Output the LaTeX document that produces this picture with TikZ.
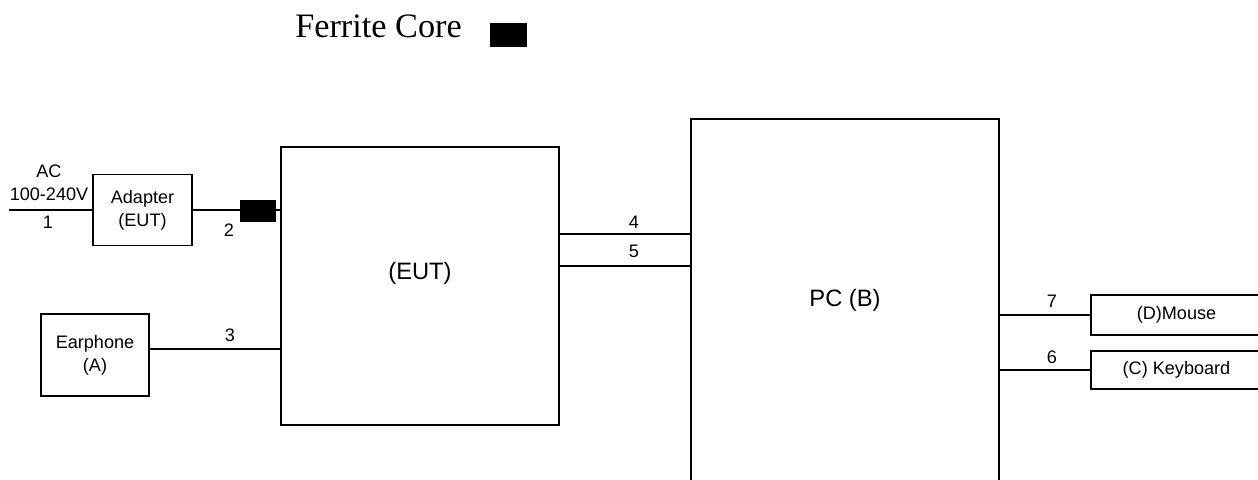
\documentclass[tikz,border=0pt]{standalone}
\usepackage{fontspec}
\setmainfont{Liberation Sans}
\newfontfamily\ferfont{Liberation Serif}

\begin{document}
\begin{tikzpicture}[x=0.02cm, y=-0.02cm,
  box/.style={draw, line width=1.1pt, inner sep=0pt, align=center, font=\fontsize{10.3}{13}\selectfont},
  core/.style={fill=black, inner sep=0pt, minimum width=0.72cm, minimum height=0.44cm},
  lbl/.style={inner sep=1pt, align=center, font=\fontsize{10.3}{13}\selectfont},
  big/.style={font=\fontsize{13.5}{16}\selectfont},
  wire/.style={line width=1.1pt}]
\useasboundingbox (0,0) rectangle (1258,480);
\clip (0,0) rectangle (1258,480);
% legend
\node[anchor=base, font=\ferfont\fontsize{19.5}{24}\selectfont] (ttl) at (378.5,37) {Ferrite Core};
\node[core, minimum width=0.74cm, minimum height=0.48cm] (key) at (508.5,35) {};
% units
\node[box, minimum width=1.98cm, minimum height=1.42cm] (adp) at (142.5,210) {Adapter\\(EUT)};
\node[core] (fer) at (258,211) {};
\node[box, minimum width=5.56cm, minimum height=5.56cm] (eut) at (420,286) {};
\node[big] (eutl) at (420,273) {(EUT)};
\node[box, minimum width=2.16cm, minimum height=1.64cm] (ear) at (95,355) {Earphone\\(A)};
\node[box, minimum width=6.16cm, minimum height=7.62cm] (pc) at (845,309.5) {};
\node[big] (pcl) at (845,300) {PC (B)};
\node[box, minimum width=3.42cm, minimum height=0.8cm] (mou) at (1176.5,315) {(D)Mouse};
\node[box, minimum width=3.42cm, minimum height=0.76cm] (kbd) at (1176.5,370) {(C) Keyboard};
% cables
\coordinate (ac) at (9,210);
\coordinate (p3) at (0,349);
\coordinate (p4) at (0,234);
\coordinate (p5) at (0,266);
\draw[wire] (ac) -- (adp.west);
\draw[wire] (adp.east) -- (adp.east -| fer.west);
\draw[wire] (adp.east -| fer.east) -- (adp.east -| eut.west);
\draw[wire] (ear.east |- p3) -- (eut.west |- p3);
\draw[wire] (eut.east |- p4) -- (pc.west |- p4);
\draw[wire] (eut.east |- p5) -- (pc.west |- p5);
\draw[wire] (pc.east |- mou.west) -- (mou.west);
\draw[wire] (pc.east |- kbd.west) -- (kbd.west);
\node[lbl] (acl) at (49,182.5) {AC\\100-240V};
\node[lbl] (n1) at (48,222) {1};
\node[lbl] (n2) at (229,230) {2};
\node[lbl] (n3) at (230,335) {3};
\node[lbl] (n4) at (634,222) {4};
\node[lbl] (n5) at (634,251) {5};
\node[lbl] (n7) at (1052,301) {7};
\node[lbl] (n6) at (1052,357) {6};
\end{tikzpicture}
\end{document}
